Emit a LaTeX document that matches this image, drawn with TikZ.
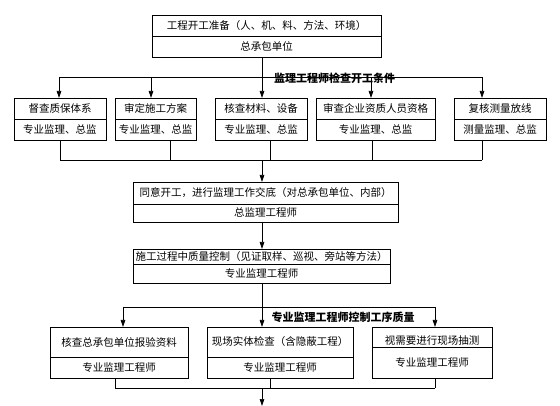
\documentclass[tikz,border=0pt]{standalone}
\usepackage{fontspec}
\setmainfont{Noto Sans CJK SC}
\usetikzlibrary{arrows.meta, positioning}

\begin{document}
\begin{tikzpicture}[x=1pt, y=-1pt, line width=0.7pt, >={Triangle[length=7pt, width=4.5pt]},
        task/.style={rectangle, draw, outer sep=0pt, inner sep=0pt, align=center, font=\fontsize{10.5}{12}\selectfont},
        note/.style={inner sep=0pt, font=\bfseries\fontsize{11}{13}\selectfont}]
        \useasboundingbox (0,0) rectangle (560,406);

        % Nodes
        \node[task, minimum width=229pt, minimum height=21pt] (prep) at (266.5,25.5) {工程开工准备（人、机、料、方法、环境）};
        \node[task, minimum width=229pt, minimum height=21pt, below=0pt of prep] (prepW) {总承包单位};

        \node[task, minimum width=92pt, minimum height=21pt] (system) at (60,108.5) {督查质保体系};
        \node[task, minimum width=92pt, minimum height=21pt, below=0pt of system] (systemW) {专业监理、总监};
        \node[task, minimum width=81pt, minimum height=21pt] (scheme) at (155.5,108.5) {审定施工方案};
        \node[task, minimum width=81pt, minimum height=21pt, below=0pt of scheme] (schemeW) {专业监理、总监};
        \node[task, minimum width=92pt, minimum height=21pt] (material) at (261,108.5) {核查材料、设备};
        \node[task, minimum width=92pt, minimum height=21pt, below=0pt of material] (materialW) {专业监理、总监};
        \node[task, minimum width=119pt, minimum height=21pt] (qualify) at (375.5,108.5) {审查企业资质人员资格};
        \node[task, minimum width=119pt, minimum height=21pt, below=0pt of qualify] (qualifyW) {专业监理、总监};
        \node[task, minimum width=92pt, minimum height=21pt] (survey) at (500,108.5) {复核测量放线};
        \node[task, minimum width=92pt, minimum height=21pt, below=0pt of survey] (surveyW) {测量监理、总监};

        \node[task, minimum width=265pt, minimum height=22pt] (agree) at (265.5,193) {同意开工，进行监理工作交底（对总承包单位、内部）};
        \node[task, minimum width=265pt, minimum height=18pt, below=0pt of agree] (agreeW) {总监理工程师};

        \node[task, minimum width=257pt, minimum height=15pt] (control) at (261.5,256.5) {施工过程中质量控制（见证取样、巡视、旁站等方法）};
        \node[task, minimum width=257pt, minimum height=19pt, below=0pt of control] (controlW) {专业监理工程师};

        \node[task, minimum width=138pt, minimum height=30pt] (report) at (119,342) {核查总承包单位报验资料};
        \node[task, minimum width=138pt, minimum height=21pt, below=0pt of report] (reportW) {专业监理工程师};
        \node[task, minimum width=146pt, minimum height=30pt] (site) at (280,342) {现场实体检查（含隐蔽工程）};
        \node[task, minimum width=146pt, minimum height=21pt, below=0pt of site] (siteW) {专业监理工程师};
        \node[task, minimum width=120pt, minimum height=20pt] (sample) at (432,337) {\raisebox{-4pt}[\height][\depth]{视需要进行现场抽测}};
        \node[task, minimum width=120pt, minimum height=31pt, below=0pt of sample] (sampleW) {专业监理工程师};

        \node[note] (check) at (334.5,78) {监理工程师检查开工条件};
        \node[note] (quality) at (343,317) {专业监理工程师控制工序质量};

        \coordinate (fork1) at (262,77);
        \coordinate (join1) at (262,160);
        \coordinate (fork2) at (262,307);
        \coordinate (join2) at (262,388);
        \coordinate (out) at (262,406);

        % Edges
        \draw (prepW.south -| fork1) -- (fork1);
        \draw ([xshift=-1pt]system.north |- fork1) -- ([xshift=-18pt]survey.north |- fork1);
        \draw[->] ([xshift=-1pt]system.north |- fork1) -- ([xshift=-1pt]system.north);
        \draw[->] ([xshift=-4.5pt]scheme.north |- fork1) -- ([xshift=-4.5pt]scheme.north);
        \draw[->] (fork1) -- (fork1 |- material.north);
        \draw[->] ([xshift=-4.5pt]qualify.north |- fork1) -- ([xshift=-4.5pt]qualify.north);
        \draw[->] ([xshift=-18pt]survey.north |- fork1) -- ([xshift=-18pt]survey.north);

        \draw (systemW.south) -- (systemW.south |- join1);
        \draw ([xshift=14.5pt]schemeW.south) -- ([xshift=14.5pt]schemeW.south |- join1);
        \draw ([xshift=9pt]materialW.south) -- ([xshift=9pt]materialW.south |- join1);
        \draw ([xshift=-3.5pt]qualifyW.south) -- ([xshift=-3.5pt]qualifyW.south |- join1);
        \draw ([xshift=-18pt]surveyW.south) -- ([xshift=-18pt]surveyW.south |- join1);
        \draw (systemW.south |- join1) -- ([xshift=-18pt]surveyW.south |- join1);
        \draw[->] (join1) -- (join1 |- agree.north);

        \draw[->] (agreeW.south -| join1) -- (control.north -| join1);

        \draw (controlW.south -| fork2) -- (fork2);
        \draw ([xshift=4pt]report.north |- fork2) -- ([xshift=3pt]sample.north |- fork2);
        \draw[->] ([xshift=4pt]report.north |- fork2) -- ([xshift=4pt]report.north);
        \draw[->] (fork2) -- (fork2 |- site.north);
        \draw[->] ([xshift=3pt]sample.north |- fork2) -- ([xshift=3pt]sample.north);

        \draw ([xshift=-4pt]reportW.south) -- ([xshift=-4pt]reportW.south |- join2);
        \draw ([xshift=-10pt]siteW.south) -- ([xshift=-10pt]siteW.south |- join2);
        \draw ([xshift=3pt]sampleW.south) -- ([xshift=3pt]sampleW.south |- join2);
        \draw ([xshift=-4pt]reportW.south |- join2) -- ([xshift=3pt]sampleW.south |- join2);
        \draw[->] (join2) -- (out);
    \end{tikzpicture}
\end{document}
